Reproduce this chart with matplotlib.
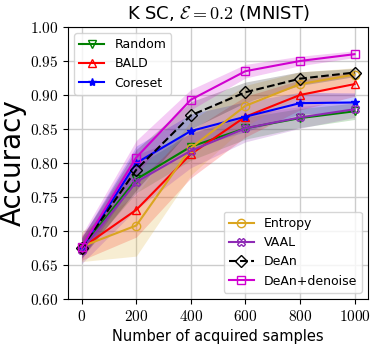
import matplotlib
matplotlib.use("Agg")
import matplotlib.pyplot as plt
import numpy as np

plt.rcParams['mathtext.fontset'] = 'cm'

x = [0, 200, 400, 600, 800, 1000]

random_m = [0.675, 0.776, 0.824, 0.851, 0.866, 0.876]
random_s = [0.012, 0.020, 0.020, 0.016, 0.014, 0.012]
bald_m = [0.675, 0.731, 0.813, 0.868, 0.900, 0.916]
bald_s = [0.018, 0.040, 0.035, 0.030, 0.022, 0.018]
coreset_m = [0.675, 0.800, 0.847, 0.868, 0.888, 0.889]
coreset_s = [0.015, 0.025, 0.025, 0.022, 0.016, 0.014]
entropy_m = [0.677, 0.708, 0.822, 0.884, 0.916, 0.930]
entropy_s = [0.022, 0.045, 0.040, 0.030, 0.018, 0.010]
vaal_m = [0.672, 0.772, 0.818, 0.851, 0.867, 0.879]
vaal_s = [0.020, 0.040, 0.025, 0.020, 0.016, 0.012]
dean_m = [0.675, 0.790, 0.870, 0.904, 0.924, 0.933]
dean_s = [0.015, 0.030, 0.020, 0.015, 0.010, 0.006]
deann_m = [0.676, 0.808, 0.893, 0.935, 0.950, 0.960]
deann_s = [0.018, 0.025, 0.015, 0.010, 0.007, 0.005]

series = [
    ("Random", random_m, random_s, "green", "v", "-", "none"),
    ("BALD", bald_m, bald_s, "red", "^", "-", "none"),
    ("Coreset", coreset_m, coreset_s, "blue", "*", "-", "blue"),
    ("Entropy", entropy_m, entropy_s, "#DAA520", "o", "-", "none"),
    ("VAAL", vaal_m, vaal_s, "#8E2BB5", "X", "-", "none"),
    ("DeAn", dean_m, dean_s, "black", "D", "--", "none"),
    ("DeAn+denoise", deann_m, deann_s, "#D000D0", "s", "-", "none"),
]

fig = plt.figure(figsize=(3.78, 3.46), dpi=100)
ax = fig.add_axes([0.18, 0.136, 0.794, 0.786])
handles = []
for name, m, s, c, mk, ls, fc in series:
    m = np.array(m); s = np.array(s)
    ax.fill_between(x, m - s, m + s, color=c, alpha=0.2, linewidth=0)
    h, = ax.plot(x, m, color=c, marker=mk, linestyle=ls, markerfacecolor=fc,
                 markersize=6, linewidth=1.5, label=name)
    handles.append(h)

ax.set_xlim(-50, 1050)
ax.set_ylim(0.60, 1.00)
xt = [0, 200, 400, 600, 800, 1000]
yt = [0.60, 0.65, 0.70, 0.75, 0.80, 0.85, 0.90, 0.95, 1.00]
ax.set_xticks(xt)
ax.set_xticklabels([f"${v}$" for v in xt], fontsize=11)
ax.set_yticks(yt)
ax.set_yticklabels([f"${v:.2f}$" for v in yt], fontsize=11)
ax.grid(True, color="#cccccc", linewidth=1)
ax.set_axisbelow(True)
ax.set_xlabel("Number of acquired samples", fontsize=10.5)
ax.set_ylabel("Accuracy", fontsize=20, labelpad=2)
ax.set_title(r"K SC, $\mathcal{E}=0.2$ (MNIST)", fontsize=13)

leg1 = ax.legend(handles=handles[:3], loc="upper left", fontsize=9)
ax.add_artist(leg1)
ax.legend(handles=handles[3:], loc="lower right", fontsize=9)

fig.savefig("out.png", dpi=100)
